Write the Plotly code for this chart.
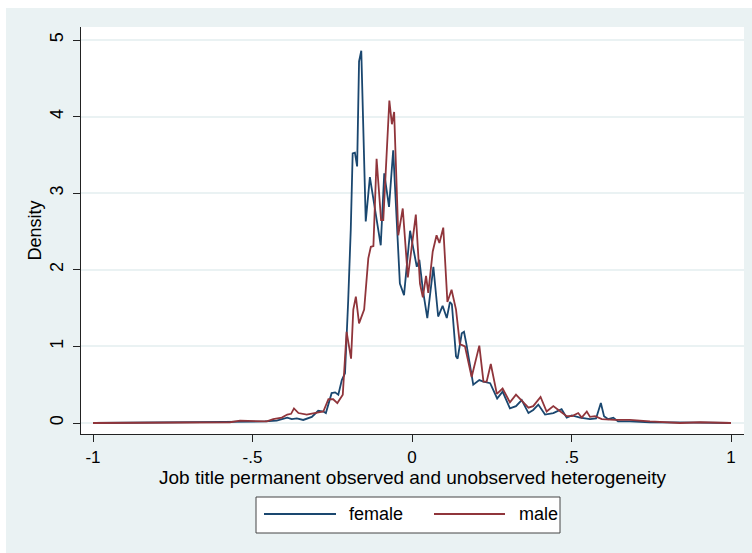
import plotly.graph_objects as go

# ---- data ----
female_x = [-1.000, -0.821, -0.665, -0.571, -0.508, -0.461, -0.424, -0.391, -0.377, -0.361,
            -0.341, -0.314, -0.294, -0.278, -0.270, -0.252, -0.241, -0.231, -0.220, -0.210,
            -0.200, -0.192, -0.186, -0.179, -0.172, -0.166, -0.159, -0.145, -0.132, -0.123,
            -0.116, -0.098, -0.087, -0.072, -0.059, -0.038, -0.025, -0.006, 0.004, 0.015,
            0.023, 0.034, 0.048, 0.056, 0.067, 0.082, 0.096, 0.109, 0.119, 0.125,
            0.138, 0.143, 0.156, 0.163, 0.171, 0.192, 0.211, 0.224, 0.245, 0.267,
            0.284, 0.307, 0.326, 0.344, 0.365, 0.380, 0.396, 0.417, 0.443, 0.469,
            0.485, 0.501, 0.527, 0.558, 0.577, 0.592, 0.602, 0.615, 0.631, 0.646,
            0.683, 0.746, 0.840, 0.903, 1.000]
female_y = [0.00, 0.005, 0.01, 0.015, 0.01, 0.02, 0.03, 0.07, 0.05, 0.06,
            0.04, 0.08, 0.16, 0.15, 0.13, 0.39, 0.40, 0.37, 0.56, 0.65,
            1.60, 2.52, 3.52, 3.53, 3.35, 4.72, 4.86, 2.63, 3.21, 2.98,
            2.75, 2.32, 3.26, 2.82, 3.56, 1.82, 1.67, 2.51, 2.28, 2.04,
            2.13, 1.74, 1.37, 1.65, 2.04, 1.39, 1.53, 1.37, 1.58, 1.55,
            0.87, 0.84, 1.17, 1.19, 1.02, 0.50, 0.56, 0.54, 0.52, 0.32,
            0.41, 0.19, 0.22, 0.30, 0.13, 0.17, 0.24, 0.11, 0.13, 0.18,
            0.07, 0.10, 0.07, 0.05, 0.06, 0.26, 0.09, 0.05, 0.07, 0.02,
            0.02, 0.01, 0.01, 0.005, 0.00]

male_x = [-1.000, -0.821, -0.665, -0.571, -0.539, -0.455, -0.435, -0.408, -0.391, -0.379,
          -0.370, -0.356, -0.330, -0.304, -0.288, -0.278, -0.262, -0.247, -0.234, -0.217,
          -0.205, -0.191, -0.184, -0.176, -0.166, -0.150, -0.137, -0.129, -0.121, -0.111,
          -0.097, -0.090, -0.071, -0.063, -0.056, -0.043, -0.029, -0.013, 0.012, 0.025,
          0.034, 0.044, 0.051, 0.065, 0.077, 0.086, 0.098, 0.111, 0.124, 0.138,
          0.150, 0.166, 0.187, 0.197, 0.211, 0.224, 0.234, 0.247, 0.266, 0.284,
          0.307, 0.326, 0.344, 0.365, 0.380, 0.403, 0.422, 0.443, 0.459, 0.485,
          0.502, 0.521, 0.532, 0.548, 0.558, 0.574, 0.595, 0.636, 0.683, 0.746,
          0.840, 0.903, 1.000]
male_y = [0.00, 0.005, 0.01, 0.01, 0.03, 0.02, 0.05, 0.07, 0.11, 0.12,
          0.19, 0.13, 0.11, 0.13, 0.15, 0.15, 0.31, 0.31, 0.26, 0.37,
          1.19, 0.84, 1.48, 1.65, 1.30, 1.48, 2.15, 2.30, 2.31, 3.45,
          2.65, 2.65, 4.21, 3.90, 4.06, 2.45, 2.80, 1.90, 2.72, 1.82,
          1.64, 1.92, 1.70, 2.24, 2.45, 2.35, 2.55, 1.58, 1.74, 1.48,
          1.03, 1.00, 0.60, 0.78, 1.01, 0.54, 0.54, 0.77, 0.38, 0.45,
          0.27, 0.37, 0.29, 0.20, 0.22, 0.34, 0.15, 0.22, 0.17, 0.09,
          0.09, 0.13, 0.07, 0.15, 0.08, 0.09, 0.05, 0.04, 0.04, 0.02,
          0.00, 0.01, 0.00]

series_names = ["female", "male"]
x_tickvals = [-1, -0.5, 0, 0.5, 1]
x_ticktext = ["-1", "-.5", "0", ".5", "1"]
y_tickvals = [0, 1, 2, 3, 4, 5]
y_ticktext = ["0", "1", "2", "3", "4", "5"]

NAVY = "#1a476f"
MAROON = "#90353b"
BG = "#eaf2f3"
FONT = "Liberation Sans, Arial, sans-serif"

fig = go.Figure()
fig.add_trace(go.Scatter(x=female_x, y=female_y, mode="lines", name=series_names[0],
                         line=dict(color=NAVY, width=1.8), showlegend=False))
fig.add_trace(go.Scatter(x=male_x, y=male_y, mode="lines", name=series_names[1],
                         line=dict(color=MAROON, width=1.8), showlegend=False))

# plot area: px x 81..744, y 27..434
W, H = 752, 553
L, R, T, B = 81, 744, 27, 434


def px(xp):
    return (xp - L) / (R - L)


def py(yp):
    return (B - yp) / (B - T)


shapes = []
# white border strips (outside the light background)
shapes.append(dict(type="rect", xref="paper", yref="paper", x0=px(-5), x1=px(6), y0=py(560), y1=py(-5),
                   fillcolor="white", line=dict(width=0), layer="below"))
shapes.append(dict(type="rect", xref="paper", yref="paper", x0=px(-5), x1=px(760), y0=py(8), y1=py(-5),
                   fillcolor="white", line=dict(width=0), layer="below"))
# legend box
shapes.append(dict(type="rect", xref="paper", yref="paper", x0=px(256), x1=px(560), y0=py(533), y1=py(497),
                   fillcolor="white", line=dict(color="#444444", width=1)))
shapes.append(dict(type="line", xref="paper", yref="paper", x0=px(264), x1=px(336), y0=py(514), y1=py(514),
                   line=dict(color=NAVY, width=1.8)))
shapes.append(dict(type="line", xref="paper", yref="paper", x0=px(434), x1=px(505), y0=py(514), y1=py(514),
                   line=dict(color=MAROON, width=1.8)))

annotations = [
    dict(x=px(347), y=py(514), xref="paper", yref="paper", text=series_names[0], showarrow=False,
         xanchor="left", yanchor="middle", font=dict(family=FONT, size=18, color="black")),
    dict(x=px(517), y=py(514), xref="paper", yref="paper", text=series_names[1], showarrow=False,
         xanchor="left", yanchor="middle", font=dict(family=FONT, size=18, color="black")),
]

fig.update_layout(
    width=W, height=H,
    margin=dict(l=L, r=W - R, t=T, b=H - B),
    paper_bgcolor=BG, plot_bgcolor="white",
    font=dict(family=FONT, size=17, color="black"),
    shapes=shapes, annotations=annotations,
    showlegend=False,
)

x0_px, x1_px = 93, 731
xr = [-1 - (x0_px - L) / ((x1_px - x0_px) / 2), 1 + (R - x1_px) / ((x1_px - x0_px) / 2)]
y0_px, y5_px = 423, 40
upp = (y0_px - y5_px) / 5
yr = [-(B - y0_px) / upp, 5 + (y5_px - T) / upp]

fig.update_xaxes(range=xr, tickvals=x_tickvals, ticktext=x_ticktext, showgrid=False, zeroline=False,
                 showline=True, linecolor="#222222", linewidth=1.3, ticks="outside", ticklen=7,
                 tickcolor="#222222", tickwidth=1.2, tickfont=dict(family=FONT, size=17),
                 title=dict(text="Job title permanent observed and unobserved heterogeneity",
                            standoff=4, font=dict(family=FONT, size=19)))
fig.update_yaxes(range=yr, tickvals=y_tickvals, ticktext=y_ticktext, showgrid=True, gridcolor=BG,
                 gridwidth=1.5, zeroline=False, showline=True, linecolor="#222222", linewidth=1.3,
                 ticks="outside", ticklen=7, tickcolor="#222222", tickwidth=1.2, tickangle=-90,
                 tickfont=dict(family=FONT, size=18), ticklabelstandoff=3,
                 title=dict(text="Density", standoff=0, font=dict(family=FONT, size=18)))

fig.write_html("out.html")
